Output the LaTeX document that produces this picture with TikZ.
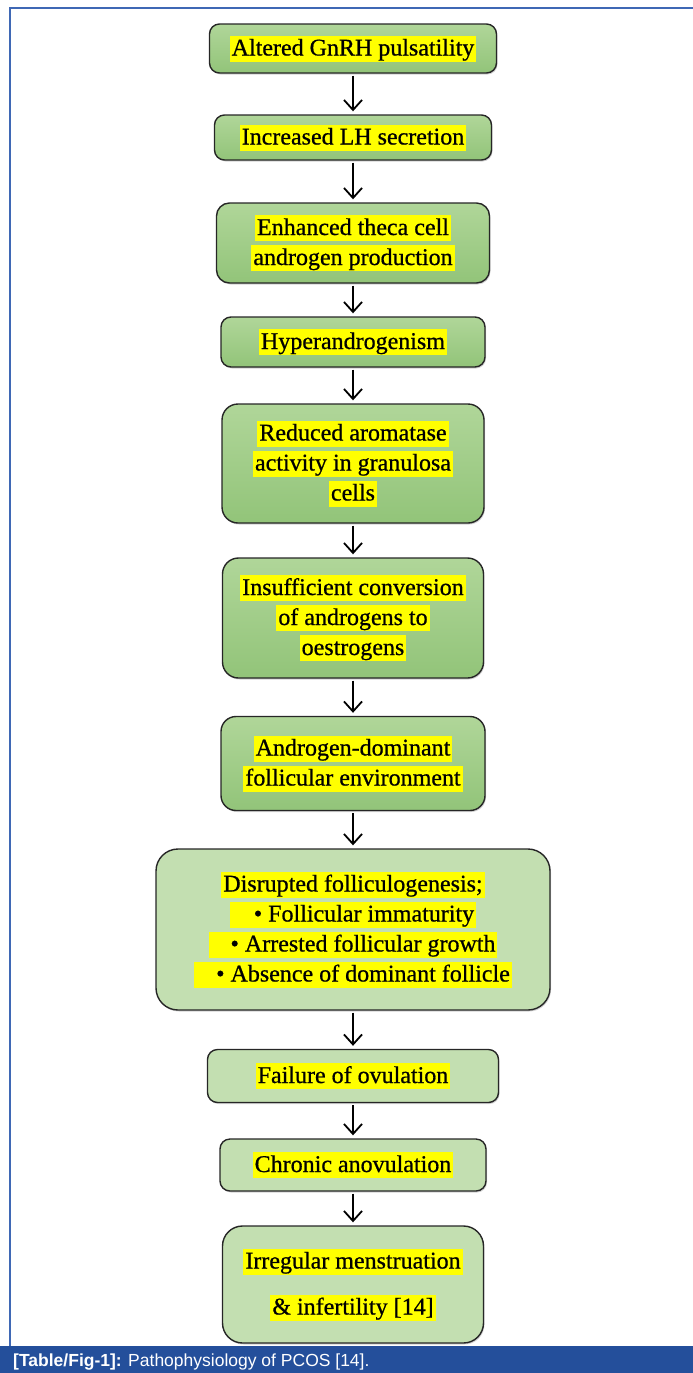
\documentclass[tikz,border=0pt]{standalone}
\usepackage{fontspec}
\setmainfont{Liberation Serif}[FakeBold=0.6]
\setsansfont{Liberation Sans}
\newfontfamily\boxfont{Liberation Serif}[AutoFakeBold=0.7]
\usetikzlibrary{arrows.meta,shadows}
\definecolor{hlyel}{HTML}{FFFF00}
\definecolor{gtop}{HTML}{B0D699}
\definecolor{gbot}{HTML}{92C479}
\definecolor{lgreen}{HTML}{C3DFB1}
\definecolor{frameblue}{HTML}{3F68B5}
\definecolor{capblue}{HTML}{244F9B}
\newcommand{\hlt}[1]{{\setlength{\fboxsep}{0pt}\colorbox{hlyel}{\rule[-6pt]{0pt}{26pt}\hspace{2pt}#1\hspace{2pt}}}}
\begin{document}
\begin{tikzpicture}[x=1pt,y=-1pt,
 box/.style={draw=black!85, line width=1.4pt, rounded corners=10pt, align=center,
   font=\fontsize{24}{30}\boxfont\bfseries, inner sep=0pt,
   drop shadow={opacity=0.35, shadow xshift=1pt, shadow yshift=-1.5pt}},
 dark/.style={box, top color=gtop, bottom color=gbot},
 light/.style={box, fill=lgreen},
 arr/.style={-{Straight Barb[length=10pt,width=18pt,line width=1.8pt]}, line width=1.8pt,
   shorten <=2pt, shorten >=3pt}]
\useasboundingbox (0,0) rectangle (693,1373);
% frame and caption
\draw[frameblue, line width=1.8pt] (10,1346) -- (10,8) -- (693,8);
\fill[capblue] (0,1346) rectangle (693,1373);
\node[anchor=base west, font=\fontsize{17.5}{20}\selectfont\sffamily, text=white, inner sep=0pt] (cap) at (13,1366)
  {\textbf{[Table/Fig-1]:} Pathophysiology of PCOS [14].};
% boxes
\node[dark, minimum width=287pt, minimum height=49pt] (n1) at (353,48.5) {\hlt{Altered GnRH pulsatility}};
\node[dark, minimum width=277pt, minimum height=45pt] (n2) at (353,137.5) {\hlt{Increased LH secretion}};
\node[dark, minimum width=273pt, minimum height=80pt, rounded corners=13pt] (n3) at (353,243)
  {\hlt{Enhanced theca cell}\\\hlt{androgen production}};
\node[dark, minimum width=264pt, minimum height=50pt] (n4) at (353,342) {\hlt{Hyperandrogenism}};
\node[dark, minimum width=262pt, minimum height=119pt, rounded corners=16pt] (n5) at (353,463.5)
  {\hlt{Reduced aromatase}\\\hlt{activity in granulosa}\\\hlt{cells}};
\node[dark, minimum width=261pt, minimum height=120pt, rounded corners=16pt] (n6) at (353,618)
  {\hlt{Insufficient conversion}\\\hlt{of androgens to}\\\hlt{oestrogens}};
\node[dark, minimum width=264pt, minimum height=94pt, rounded corners=15pt] (n7) at (353,763.5)
  {\hlt{Androgen-dominant}\\\hlt{follicular environment}};
\node[light, minimum width=394pt, minimum height=161pt, rounded corners=22pt] (n8) at (353,929.5)
  {\hlt{Disrupted folliculogenesis;}\\
   \hlt{\hspace{22pt}• Follicular immaturity}\\
   \hlt{\hspace{20pt}• Arrested follicular growth}\\
   \hlt{\hspace{20pt}• Absence of dominant follicle}};
\node[light, minimum width=291pt, minimum height=53pt] (n9) at (353,1076) {\hlt{Failure of ovulation}};
\node[light, minimum width=266pt, minimum height=52pt] (n10) at (353,1165) {\hlt{Chronic anovulation}};
\node[light, minimum width=261pt, minimum height=117pt, rounded corners=20pt] (n11) at (353,1284.5)
  {\hlt{Irregular menstruation}\\[16pt]\hlt{\& infertility [14]}};
% arrows
\foreach \a/\b in {n1/n2,n2/n3,n3/n4,n4/n5,n5/n6,n6/n7,n7/n8,n8/n9,n9/n10,n10/n11}
  \draw[arr] (\a.south) -- (\b.north);
\end{tikzpicture}
\end{document}
